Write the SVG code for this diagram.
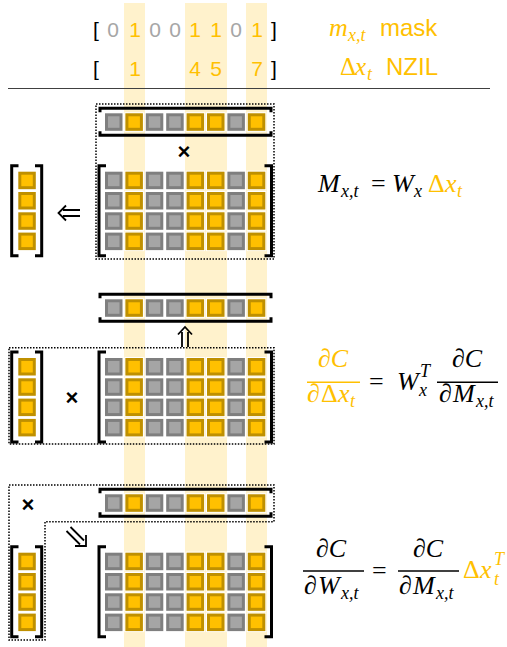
<svg xmlns="http://www.w3.org/2000/svg" xmlns:xlink="http://www.w3.org/1999/xlink" width="507" height="647" viewBox="0 0 507 647">
<style>
.band{fill:#fff2cc}
.br{fill:none;stroke:#000;stroke-width:3;stroke-linecap:butt}
.dot{fill:none;stroke:#000;stroke-width:1.5;stroke-dasharray:1.5 1.5}
.arr{fill:none;stroke:#000;stroke-width:1.8;stroke-linecap:butt;stroke-linejoin:miter}
.sans{font-family:"Liberation Sans",Arial,sans-serif}
.math{font-family:"Liberation Serif","Times New Roman",serif;font-style:italic}
.up{font-family:"Liberation Serif","Times New Roman",serif}
.or{fill:#ffc000}
.gr{fill:#a6a6a6}
.bk{fill:#000}
.fl{stroke-width:1.5}
</style>
<defs>
<g id="cg"><rect x="-0.5" y="-0.5" width="18.5" height="18.5" fill="none" stroke="#fff" stroke-width="1"/><rect x="1.5" y="1.5" width="14.5" height="14.5" fill="#a5a5a5" stroke="#7f7f7f" stroke-width="3"/></g>
<g id="co"><rect x="-0.5" y="-0.5" width="18.5" height="18.5" fill="none" stroke="#fff" stroke-width="1"/><rect x="1.5" y="1.5" width="14.5" height="14.5" fill="#ffc000" stroke="#bf9000" stroke-width="3"/></g>
<g id="row">
<use xlink:href="#cg" x="105" y="0"/><use xlink:href="#co" x="125.4" y="0"/><use xlink:href="#cg" x="145.8" y="0"/><use xlink:href="#cg" x="166.2" y="0"/><use xlink:href="#co" x="186.6" y="0"/><use xlink:href="#co" x="207" y="0"/><use xlink:href="#cg" x="227.4" y="0"/><use xlink:href="#co" x="247.8" y="0"/>
</g>
<g id="rowvec">
<path class="br" d="M100,4 V0 H271 V4 M100,23 V27 H271 V23"/>
<use xlink:href="#row" y="5"/>
</g>
<g id="mat">
<path class="br" d="M106,0 H99 V90 H106 M264.5,0 H271.5 V90 H264.5"/>
<use xlink:href="#row" y="6"/><use xlink:href="#row" y="26.3"/><use xlink:href="#row" y="46.6"/><use xlink:href="#row" y="66.9"/>
</g>
<g id="colvec">
<path class="br" d="M18.5,0 H11.7 V90 H18.5 M35,0 H41.7 V90 H35"/>
<use xlink:href="#co" x="18.3" y="6"/><use xlink:href="#co" x="18.3" y="26.3"/><use xlink:href="#co" x="18.3" y="46.6"/><use xlink:href="#co" x="18.3" y="66.9"/>
</g>
</defs>
<rect width="507" height="647" fill="#fff"/>
<g id="bands">
<rect class="band" x="124" y="3" width="21" height="644"/>
<rect class="band" x="185" y="3" width="42" height="644"/>
<rect class="band" x="246" y="3" width="21" height="644"/>
</g>
<g id="mask-row" class="sans" font-size="21" text-anchor="middle">
<text x="96" y="37" class="bk">[</text>
<text x="113" y="37" class="gr">0</text>
<text x="135" y="37" class="or">1</text>
<text x="155" y="37" class="gr">0</text>
<text x="175" y="37" class="gr">0</text>
<text x="195" y="37" class="or">1</text>
<text x="216" y="37" class="or">1</text>
<text x="236" y="37" class="gr">0</text>
<text x="257" y="37" class="or">1</text>
<text x="274" y="37" class="bk">]</text>
</g>
<g id="nzil-row" class="sans" font-size="21" text-anchor="middle">
<text x="96" y="76" class="bk">[</text>
<text x="135" y="76" class="or">1</text>
<text x="195" y="76" class="or">4</text>
<text x="216" y="76" class="or">5</text>
<text x="257" y="76" class="or">7</text>
<text x="274" y="76" class="bk">]</text>
</g>
<g id="mask-label" class="or">
<text class="math" x="329" y="36" font-size="26">m</text>
<text class="math" x="348" y="41" font-size="18">x,t</text>
<text class="sans" x="380" y="36" font-size="24">mask</text>
</g>
<g id="nzil-label" class="or">
<text class="up" x="340" y="75" font-size="25">Δ</text>
<text class="math" x="355" y="75" font-size="25">x</text>
<text class="math" x="367" y="80" font-size="18">t</text>
<text class="sans" x="386" y="75" font-size="24">NZIL</text>
</g>
<line x1="8" y1="88.5" x2="490" y2="88.5" stroke="#404040" stroke-width="1"/>

<!-- Block 1 -->
<g id="b1-box"><rect class="dot" x="96" y="104" width="178" height="155"/></g>
<g id="b1-x"><use xlink:href="#rowvec" y="108.3"/></g>
<g id="b1-W"><use xlink:href="#mat" y="165.7"/></g>
<g id="b1-M"><use xlink:href="#colvec" y="165.7"/></g>
<g id="b1-times"><text class="sans bk" x="184" y="159" font-size="22" font-weight="bold" text-anchor="middle">×</text></g>
<g id="eq1">
<text class="math" x="318" y="192" font-size="26">M</text>
<text class="math" x="341" y="197" font-size="18">x,t</text>
<text class="up" x="371" y="192" font-size="26">=</text>
<text class="math" x="392" y="192" font-size="26">W</text>
<text class="math" x="414" y="197" font-size="18">x</text>
<text class="up or" x="428" y="192" font-size="26">Δ</text>
<text class="math or" x="445" y="192" font-size="26">x</text>
<text class="math or" x="457" y="197" font-size="18">t</text>
</g>

<!-- Block 2 -->
<g id="b2-M"><use xlink:href="#rowvec" y="294.3"/></g>
<g id="b2-box"><rect class="dot" x="9" y="347.7" width="265" height="96.3"/></g>
<g id="b2-dx"><use xlink:href="#colvec" y="352"/></g>
<g id="b2-WT"><use xlink:href="#mat" y="352"/></g>
<g id="b2-times"><text class="sans bk" x="72" y="405" font-size="22" font-weight="bold" text-anchor="middle">×</text></g>
<g id="eq2">
<text class="math or" x="333" y="367" font-size="26" text-anchor="middle">∂C</text>
<line x1="307" y1="382.3" x2="360" y2="382.3" stroke="#ffc000" class="fl"/>
<text class="math or" x="307" y="402" font-size="26">∂</text>
<text class="up or" x="321" y="402" font-size="26">Δ</text>
<text class="math or" x="338" y="402" font-size="26">x</text>
<text class="math or" x="350" y="407" font-size="18">t</text>
<text class="up" x="369" y="390" font-size="26">=</text>
<text class="math" x="397" y="390" font-size="26">W</text>
<text class="math" x="420" y="377" font-size="18">T</text>
<text class="math" x="419" y="396" font-size="18">x</text>
<text class="math" x="467" y="367" font-size="26" text-anchor="middle">∂C</text>
<line x1="437" y1="382.3" x2="498" y2="382.3" stroke="#000" class="fl"/>
<text class="math" x="439" y="402" font-size="26">∂</text>
<text class="math" x="453" y="402" font-size="26">M</text>
<text class="math" x="476" y="407" font-size="18">x,t</text>
</g>

<!-- Block 3 -->
<g id="b3-box"><path class="dot" d="M9,485 H274 V521.7 H45 V640 H9 Z"/></g>
<g id="b3-M"><use xlink:href="#rowvec" y="489.3"/></g>
<g id="b3-times"><text class="sans bk" x="28" y="512" font-size="22" font-weight="bold" text-anchor="middle">×</text></g>
<g id="b3-dx"><use xlink:href="#colvec" y="546.7"/></g>
<g id="b3-dW"><use xlink:href="#mat" y="546.7"/></g>
<g id="eq3">
<text class="math" x="331" y="557" font-size="26" text-anchor="middle">∂C</text>
<line x1="303" y1="571" x2="364" y2="571" stroke="#000" class="fl"/>
<text class="math" x="304" y="594" font-size="26">∂</text>
<text class="math" x="318" y="594" font-size="26">W</text>
<text class="math" x="341" y="599" font-size="18">x,t</text>
<text class="up" x="372" y="578.5" font-size="26">=</text>
<text class="math" x="428" y="557" font-size="26" text-anchor="middle">∂C</text>
<line x1="398" y1="571" x2="459" y2="571" stroke="#000" class="fl"/>
<text class="math" x="399" y="594" font-size="26">∂</text>
<text class="math" x="413" y="594" font-size="26">M</text>
<text class="math" x="436" y="599" font-size="18">x,t</text>
<text class="up or" x="463" y="578" font-size="26">Δ</text>
<text class="math or" x="480" y="578" font-size="26">x</text>
<text class="math or" x="494" y="565" font-size="18">T</text>
<text class="math or" x="494" y="585" font-size="18">t</text>
</g>

<!-- Connectors (double arrows) -->
<g id="connectors">
<path id="a1" class="arr" d="M80,210 H63 M80,216 H63 M66,205.5 L58.5,213 L66,220.5"/>
<path id="a2" class="arr" d="M182,347 V332 M188,347 V332 M178,334.5 L185,327 L192,334.5"/>
<path id="a3" class="arr" d="M70.5,527 L84,540.5 M66.5,531 L80,544.5 M75,546 H86 V535"/>
</g>
</svg>
